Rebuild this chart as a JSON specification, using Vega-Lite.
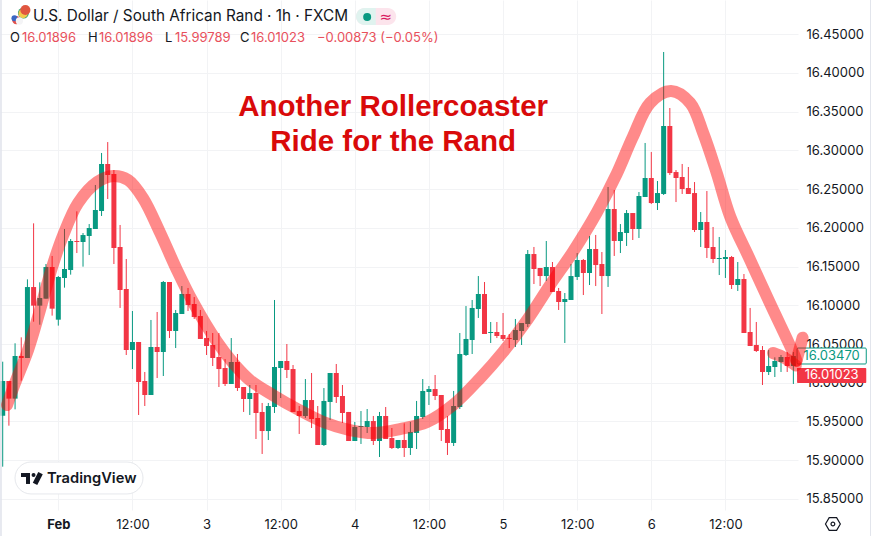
{
"$schema":"https://vega.github.io/schema/vega-lite/v6.json",
"width":798,"height":510,"padding":{"left":0,"top":0,"right":73,"bottom":26},"autosize":{"type":"none"},"background":"#ffffff",
"config":{"view":{"stroke":null},"font":"Inter"},
"datasets":{
"candles":[
{"t":-9,"o":15.9575,"hi":16.0272,"lo":15.8917,"c":16.0023},
{"t":-8,"o":16.0023,"hi":16.0023,"lo":15.9446,"c":15.9795},
{"t":-7,"o":15.9795,"hi":16.0509,"lo":15.9657,"c":16.0345},
{"t":-6,"o":16.0345,"hi":16.0586,"lo":16.0027,"c":16.0319},
{"t":-5,"o":16.0319,"hi":16.1334,"lo":16.0319,"c":16.1235},
{"t":-4,"o":16.1235,"hi":16.2057,"lo":16.0788,"c":16.0995},
{"t":-3,"o":16.0995,"hi":16.1296,"lo":16.0749,"c":16.1094},
{"t":-2,"o":16.1085,"hi":16.1532,"lo":16.1085,"c":16.1494},
{"t":-1,"o":16.1494,"hi":16.1636,"lo":16.0866,"c":16.0956},
{"t":0,"o":16.0814,"hi":16.1377,"lo":16.0737,"c":16.1365},
{"t":1,"o":16.1352,"hi":16.1984,"lo":16.1227,"c":16.1468},
{"t":2,"o":16.1455,"hi":16.1855,"lo":16.1395,"c":16.1829},
{"t":3,"o":16.1829,"hi":16.2212,"lo":16.1674,"c":16.1816},
{"t":4,"o":16.1816,"hi":16.1932,"lo":16.1498,"c":16.1906},
{"t":5,"o":16.1894,"hi":16.2048,"lo":16.1648,"c":16.1997},
{"t":6,"o":16.1984,"hi":16.2552,"lo":16.1984,"c":16.2229},
{"t":7,"o":16.2216,"hi":16.2965,"lo":16.2152,"c":16.2823},
{"t":8,"o":16.2823,"hi":16.3106,"lo":16.2371,"c":16.2681},
{"t":9,"o":16.2694,"hi":16.2745,"lo":16.1532,"c":16.1739},
{"t":10,"o":16.1752,"hi":16.2036,"lo":16.0965,"c":16.1197},
{"t":11,"o":16.121,"hi":16.1597,"lo":16.0358,"c":16.0423},
{"t":12,"o":16.0423,"hi":16.0926,"lo":16.0177,"c":16.0526},
{"t":13,"o":16.0526,"hi":16.0526,"lo":15.9584,"c":16.001},
{"t":14,"o":16.0023,"hi":16.0139,"lo":15.97,"c":15.9842},
{"t":15,"o":15.9842,"hi":16.081,"lo":15.9842,"c":16.0461},
{"t":16,"o":16.0461,"hi":16.0913,"lo":16.0061,"c":16.0397},
{"t":17,"o":16.0397,"hi":16.1313,"lo":16.0087,"c":16.13},
{"t":18,"o":16.13,"hi":16.13,"lo":16.0577,"c":16.0668},
{"t":19,"o":16.0668,"hi":16.0939,"lo":16.0448,"c":16.09},
{"t":20,"o":16.0887,"hi":16.1248,"lo":16.0887,"c":16.1145},
{"t":21,"o":16.1145,"hi":16.1223,"lo":16.0926,"c":16.1003},
{"t":22,"o":16.1016,"hi":16.1106,"lo":16.0823,"c":16.0848},
{"t":23,"o":16.0861,"hi":16.0939,"lo":16.0565,"c":16.0565},
{"t":24,"o":16.0577,"hi":16.0668,"lo":16.0358,"c":16.0474},
{"t":25,"o":16.0487,"hi":16.0642,"lo":16.0216,"c":16.0319},
{"t":26,"o":16.0332,"hi":16.0642,"lo":15.9945,"c":16.0177},
{"t":27,"o":16.019,"hi":16.0306,"lo":15.9958,"c":15.9984},
{"t":28,"o":15.9984,"hi":16.0577,"lo":15.9984,"c":16.0268},
{"t":29,"o":16.0268,"hi":16.0371,"lo":15.9894,"c":15.9932},
{"t":30,"o":15.9945,"hi":15.9945,"lo":15.9623,"c":15.979},
{"t":31,"o":15.979,"hi":15.9971,"lo":15.9584,"c":15.9868},
{"t":32,"o":15.9868,"hi":15.9971,"lo":15.9274,"c":15.961},
{"t":33,"o":15.9623,"hi":15.9739,"lo":15.9081,"c":15.9377},
{"t":34,"o":15.9377,"hi":15.9739,"lo":15.9261,"c":15.97},
{"t":35,"o":15.9687,"hi":16.1068,"lo":15.961,"c":16.0203},
{"t":36,"o":16.019,"hi":16.0281,"lo":15.9803,"c":16.0281},
{"t":37,"o":16.0281,"hi":16.05,"lo":16.0061,"c":16.0165},
{"t":38,"o":16.0177,"hi":16.0229,"lo":15.9623,"c":15.9623},
{"t":39,"o":15.9635,"hi":15.97,"lo":15.9339,"c":15.9571},
{"t":40,"o":15.9571,"hi":16.0048,"lo":15.9545,"c":15.9777},
{"t":41,"o":15.9777,"hi":16.0126,"lo":15.9416,"c":15.9532},
{"t":42,"o":15.9545,"hi":15.97,"lo":15.9197,"c":15.9197},
{"t":43,"o":15.9197,"hi":15.9932,"lo":15.9184,"c":15.9765},
{"t":44,"o":15.9752,"hi":16.0126,"lo":15.9519,"c":16.0126},
{"t":45,"o":16.0126,"hi":16.0242,"lo":15.9739,"c":15.9816},
{"t":46,"o":15.9829,"hi":15.9971,"lo":15.9481,"c":15.961},
{"t":47,"o":15.9623,"hi":15.9623,"lo":15.9248,"c":15.9248},
{"t":48,"o":15.9248,"hi":15.9494,"lo":15.9248,"c":15.9429},
{"t":49,"o":15.9429,"hi":15.9635,"lo":15.921,"c":15.9442},
{"t":50,"o":15.9429,"hi":15.9661,"lo":15.9352,"c":15.9506},
{"t":51,"o":15.9506,"hi":15.9571,"lo":15.9197,"c":15.9248},
{"t":52,"o":15.9248,"hi":15.9623,"lo":15.9042,"c":15.9571},
{"t":53,"o":15.9571,"hi":15.9687,"lo":15.9274,"c":15.9274},
{"t":54,"o":15.9287,"hi":15.9416,"lo":15.9145,"c":15.9158},
{"t":55,"o":15.9158,"hi":15.9261,"lo":15.9145,"c":15.9261},
{"t":56,"o":15.9261,"hi":15.9476,"lo":15.9042,"c":15.9158},
{"t":57,"o":15.9158,"hi":15.9494,"lo":15.9068,"c":15.9365},
{"t":58,"o":15.9352,"hi":15.9765,"lo":15.9145,"c":15.9571},
{"t":59,"o":15.9558,"hi":16.0048,"lo":15.9532,"c":15.9894},
{"t":60,"o":15.9881,"hi":15.9958,"lo":15.9713,"c":15.9919},
{"t":61,"o":15.9919,"hi":16.01,"lo":15.9777,"c":15.9829},
{"t":62,"o":15.9842,"hi":15.9842,"lo":15.9248,"c":15.939},
{"t":63,"o":15.9403,"hi":15.9571,"lo":15.9068,"c":15.9223},
{"t":64,"o":15.9223,"hi":15.9894,"lo":15.9184,"c":15.97},
{"t":65,"o":15.9687,"hi":16.0642,"lo":15.9661,"c":16.0371},
{"t":66,"o":16.0358,"hi":16.099,"lo":16.0345,"c":16.0565},
{"t":67,"o":16.0552,"hi":16.1068,"lo":16.0371,"c":16.0965},
{"t":68,"o":16.0952,"hi":16.1377,"lo":16.0836,"c":16.1145},
{"t":69,"o":16.1145,"hi":16.13,"lo":16.0629,"c":16.0629},
{"t":70,"o":16.0642,"hi":16.0784,"lo":16.0513,"c":16.0655},
{"t":71,"o":16.0655,"hi":16.0784,"lo":16.0577,"c":16.0603},
{"t":72,"o":16.0616,"hi":16.09,"lo":16.0539,"c":16.0565},
{"t":73,"o":16.0577,"hi":16.0629,"lo":16.0448,"c":16.0565},
{"t":74,"o":16.0552,"hi":16.0823,"lo":16.0461,"c":16.0681},
{"t":75,"o":16.0668,"hi":16.0771,"lo":16.0487,"c":16.0771},
{"t":76,"o":16.0758,"hi":16.1713,"lo":16.0719,"c":16.1661},
{"t":77,"o":16.1661,"hi":16.1752,"lo":16.1274,"c":16.1468},
{"t":78,"o":16.1481,"hi":16.1481,"lo":16.1248,"c":16.1377},
{"t":79,"o":16.1377,"hi":16.1829,"lo":16.1313,"c":16.1494},
{"t":80,"o":16.1494,"hi":16.1558,"lo":16.1171,"c":16.1171},
{"t":81,"o":16.1184,"hi":16.1223,"lo":16.0939,"c":16.1042},
{"t":82,"o":16.1042,"hi":16.1158,"lo":16.0513,"c":16.1081},
{"t":83,"o":16.1068,"hi":16.1532,"lo":16.1068,"c":16.1377},
{"t":84,"o":16.1365,"hi":16.1674,"lo":16.1326,"c":16.1584},
{"t":85,"o":16.1584,"hi":16.1597,"lo":16.1132,"c":16.1416},
{"t":86,"o":16.1416,"hi":16.1894,"lo":16.1261,"c":16.1726},
{"t":87,"o":16.1726,"hi":16.1907,"lo":16.1248,"c":16.1519},
{"t":88,"o":16.1532,"hi":16.1687,"lo":16.0887,"c":16.1377},
{"t":89,"o":16.1377,"hi":16.2526,"lo":16.1236,"c":16.2242},
{"t":90,"o":16.2242,"hi":16.2487,"lo":16.1636,"c":16.1829},
{"t":91,"o":16.1829,"hi":16.2048,"lo":16.1674,"c":16.1945},
{"t":92,"o":16.1932,"hi":16.2229,"lo":16.1765,"c":16.219},
{"t":93,"o":16.219,"hi":16.219,"lo":16.1842,"c":16.1984},
{"t":94,"o":16.1984,"hi":16.2461,"lo":16.1868,"c":16.241},
{"t":95,"o":16.2397,"hi":16.3094,"lo":16.2397,"c":16.2642},
{"t":96,"o":16.2642,"hi":16.2977,"lo":16.2306,"c":16.2319},
{"t":97,"o":16.2319,"hi":16.2603,"lo":16.2229,"c":16.2448},
{"t":98,"o":16.2436,"hi":16.4268,"lo":16.2423,"c":16.3313},
{"t":99,"o":16.3313,"hi":16.3545,"lo":16.2681,"c":16.2706},
{"t":100,"o":16.2719,"hi":16.2745,"lo":16.2332,"c":16.2642},
{"t":101,"o":16.2655,"hi":16.2823,"lo":16.2436,"c":16.25},
{"t":102,"o":16.2513,"hi":16.2784,"lo":16.2436,"c":16.2436},
{"t":103,"o":16.2448,"hi":16.259,"lo":16.1945,"c":16.1971},
{"t":104,"o":16.1971,"hi":16.2203,"lo":16.1752,"c":16.2074},
{"t":105,"o":16.2074,"hi":16.2474,"lo":16.161,"c":16.1739},
{"t":106,"o":16.1752,"hi":16.201,"lo":16.1545,"c":16.1597},
{"t":107,"o":16.1597,"hi":16.1881,"lo":16.139,"c":16.161},
{"t":108,"o":16.1597,"hi":16.1713,"lo":16.1352,"c":16.1623},
{"t":109,"o":16.1623,"hi":16.1636,"lo":16.121,"c":16.1261},
{"t":110,"o":16.1261,"hi":16.1558,"lo":16.1184,"c":16.1339},
{"t":111,"o":16.1339,"hi":16.1403,"lo":16.0642,"c":16.0642},
{"t":112,"o":16.0655,"hi":16.0965,"lo":16.0474,"c":16.0474},
{"t":113,"o":16.0487,"hi":16.0784,"lo":16.0397,"c":16.041},
{"t":114,"o":16.0423,"hi":16.0474,"lo":15.9971,"c":16.0139},
{"t":115,"o":16.0139,"hi":16.0423,"lo":16.01,"c":16.0216},
{"t":116,"o":16.0203,"hi":16.0328,"lo":16.0074,"c":16.0281},
{"t":117,"o":16.0268,"hi":16.0358,"lo":16.0139,"c":16.0332},
{"t":118,"o":16.0332,"hi":16.0397,"lo":16.0139,"c":16.0216},
{"t":119,"o":16.0216,"hi":16.0397,"lo":15.9984,"c":16.0345},
{"t":120,"o":16.01896,"hi":16.01896,"lo":15.99789,"c":16.01023}
],
"curve":[
{"seg":"main","t":-8.3,"p":15.9713},{"seg":"main","t":-7,"p":15.9997},{"seg":"main","t":-4.9,"p":16.0423},{"seg":"main","t":-3,"p":16.0928},{"seg":"main","t":-1,"p":16.1494},{"seg":"main","t":0.8,"p":16.1906},{"seg":"main","t":3.2,"p":16.2319},{"seg":"main","t":6.3,"p":16.259},{"seg":"main","t":8.9,"p":16.2668},{"seg":"main","t":11.3,"p":16.2616},{"seg":"main","t":13.7,"p":16.2384},{"seg":"main","t":16.5,"p":16.1932},{"seg":"main","t":19.2,"p":16.1455},{"seg":"main","t":21.8,"p":16.1042},{"seg":"main","t":25.7,"p":16.0526},{"seg":"main","t":28.3,"p":16.0255},{"seg":"main","t":31,"p":16.0035},{"seg":"main","t":34.8,"p":15.9838},{"seg":"main","t":38.6,"p":15.9664},{"seg":"main","t":42.9,"p":15.9494},{"seg":"main","t":47.2,"p":15.939},{"seg":"main","t":51,"p":15.9352},{"seg":"main","t":55.3,"p":15.9403},{"seg":"main","t":59.7,"p":15.9494},{"seg":"main","t":63.9,"p":15.9713},{"seg":"main","t":68.3,"p":16.0061},{"seg":"main","t":72,"p":16.0397},{"seg":"main","t":75.9,"p":16.081},{"seg":"main","t":79.6,"p":16.1261},{"seg":"main","t":83.3,"p":16.1688},{"seg":"main","t":87.2,"p":16.22},{"seg":"main","t":90.4,"p":16.2695},{"seg":"main","t":93,"p":16.3171},{"seg":"main","t":95.8,"p":16.361},{"seg":"main","t":99.2,"p":16.3765},{"seg":"main","t":102.3,"p":16.361},{"seg":"main","t":104.4,"p":16.3223},{"seg":"main","t":106.6,"p":16.2706},{"seg":"main","t":108.8,"p":16.2139},{"seg":"main","t":112,"p":16.1584},{"seg":"main","t":115.2,"p":16.1029},{"seg":"main","t":119,"p":16.0384},{"seg":"main","t":119.5,"p":16.0283},
{"seg":"hook","t":115.7,"p":16.0384},{"seg":"hook","t":117.6,"p":16.032},{"seg":"hook","t":119.4,"p":16.0223},
{"seg":"tip","t":119.5,"p":16.0283},{"seg":"tip","t":120.5,"p":16.0582}
],
"logoBars":[{"t":-6.04,"t2":-4.58,"p":15.8835,"p2":15.8784},{"t":-5.23,"t2":-4.58,"p":15.8835,"p2":15.8694}],
"flag":[
{"part":"sa","t":-5.65,"p":16.4771},{"part":"sared","t":-5.33,"p":16.4810},{"part":"saband","t":-5.7,"p":16.4765},
{"part":"us","t":-6.8,"p":16.4680},{"part":"uswhite","t":-6.3,"p":16.4668},{"part":"usblue","t":-7.1,"p":16.4705}
],
"header":[{"label":"U.S. Dollar / South African Rand · 1h · FXCM","t":-4.1,"p":16.4732}],
"ohlcKeys":[{"label":"O","t":-7.82,"p":16.4448},{"label":"H","t":4.81,"p":16.4448},{"label":"L","t":17.27,"p":16.4448},{"label":"C","t":29.42,"p":16.4448}],
"ohlcVals":[{"label":"16.01896","t":-5.88,"p":16.4448},{"label":"16.01896","t":6.59,"p":16.4448},{"label":"15.99789","t":18.89,"p":16.4448},{"label":"16.01023","t":31.2,"p":16.4448},{"label":"−0.00873 (−0.05%)","t":41.88,"p":16.4448}],
"headline":[{"label":"Another Rollercoaster","t":54.2,"p":16.3558},{"label":"Ride for the Rand","t":54.2,"p":16.3106}]
},
"layer":[
{"data":{"name":"candles"},"mark":{"type":"rule","strokeWidth":1,"clip":true},
 "encoding":{
  "x":{"field":"t","type":"quantitative","scale":{"domain":[-9.44,119.75],"nice":false,"zero":false,"padding":0},
   "axis":{"title":null,"orient":"bottom","values":[0,12,24,36,48,60,72,84,96,108],"grid":true,"gridColor":"#f2f3f5","gridWidth":1,"domain":false,"ticks":false,"labelPadding":14,"labelFontSize":13,"labelFont":"Inter","labelColor":"#131722","labelOverlap":false,"labelBaseline":"middle","labelExpr":"datum.value==0?'Feb':datum.value%24==0?''+(2+datum.value/24):'12:00'","labelFontWeight":{"condition":{"test":"datum.value==0","value":"bold"},"value":"normal"}}},
  "y":{"field":"lo","type":"quantitative","scale":{"domain":[15.8358,16.4939],"nice":false,"zero":false},
   "axis":{"title":null,"orient":"right","values":[15.85,15.9,15.95,16.0,16.05,16.1,16.15,16.2,16.25,16.3,16.35,16.4,16.45],"format":".5f","grid":true,"gridColor":"#f2f3f5","gridWidth":1,"domain":false,"ticks":false,"labelPadding":8,"labelFontSize":13,"labelFont":"Inter","labelColor":"#131722"}},
  "y2":{"field":"hi"},
  "color":{"condition":{"test":"datum.o<datum.c","value":"#089981"},"value":"#F23645"}}},
{"data":{"name":"candles"},"mark":{"type":"bar","size":5,"clip":true},
 "encoding":{"x":{"field":"t","type":"quantitative"},"y":{"field":"o","type":"quantitative"},"y2":{"field":"c"},
  "color":{"condition":{"test":"datum.o<datum.c","value":"#089981"},"value":"#F23645"}}},
{"mark":{"type":"rule","color":"#F23645","strokeDash":[1,3],"strokeWidth":1},"encoding":{"y":{"datum":16.01023,"type":"quantitative"}}},
{"data":{"values":[{"t":-9.28}]},"mark":{"type":"rule","color":"#e0e3eb","strokeWidth":1.5},"encoding":{"x":{"field":"t","type":"quantitative"},"y":{"datum":16.4939,"type":"quantitative"},"y2":{"datum":15.8023}}},
{"data":{"values":[{"t":131.5}]},"mark":{"type":"rule","color":"#e0e3eb","strokeWidth":1},"encoding":{"x":{"field":"t","type":"quantitative"},"y":{"datum":16.4939,"type":"quantitative"},"y2":{"datum":15.8023}}},
{"data":{"values":[{"t":-7.01,"t2":13.71,"p":15.8977,"p2":15.8565}]},"mark":{"type":"rect","fill":"#ffffff","stroke":"#e6e8ec","strokeWidth":1,"cornerRadius":16},"encoding":{"x":{"field":"t","type":"quantitative"},"x2":{"field":"t2"},"y":{"field":"p","type":"quantitative"},"y2":{"field":"p2"}}},
{"data":{"name":"logoBars"},"mark":{"type":"rect","color":"#131722"},"encoding":{"x":{"field":"t","type":"quantitative"},"x2":{"field":"t2"},"y":{"field":"p","type":"quantitative"},"y2":{"field":"p2"}}},
{"data":{"values":[{"t":-4.01,"p":15.881}]},"mark":{"type":"point","filled":true,"color":"#131722","size":16,"opacity":1},"encoding":{"x":{"field":"t","type":"quantitative"},"y":{"field":"p","type":"quantitative"}}},
{"data":{"values":[{"t":-3.77,"p":15.8694},{"t":-2.88,"p":15.8835}]},"mark":{"type":"line","color":"#131722","strokeWidth":5},"encoding":{"x":{"field":"t","type":"quantitative"},"y":{"field":"p","type":"quantitative"}}},
{"data":{"values":[{"label":"TradingView","t":-1.83,"p":15.8758}]},"mark":{"type":"text","align":"left","baseline":"middle","font":"Inter","fontWeight":600,"fontSize":14.7,"color":"#131722"},"encoding":{"x":{"field":"t","type":"quantitative"},"y":{"field":"p","type":"quantitative"},"text":{"field":"label"}}},
{"data":{"values":[{"t":119.6,"t2":130.8,"p":16.0448,"p2":16.0242}]},"mark":{"type":"rect","fill":"#ffffff","stroke":"#089981","strokeWidth":1,"cornerRadius":1},"encoding":{"x":{"field":"t","type":"quantitative"},"x2":{"field":"t2"},"y":{"field":"p","type":"quantitative"},"y2":{"field":"p2"}}},
{"data":{"values":[{"label":"16.03470","t":125.2,"p":16.0345}]},"mark":{"type":"text","align":"center","baseline":"middle","font":"Inter","fontSize":13,"color":"#089981"},"encoding":{"x":{"field":"t","type":"quantitative"},"y":{"field":"p","type":"quantitative"},"text":{"field":"label"}}},
{"data":{"values":[{"t":119.6,"t2":130.8,"p":16.019,"p2":15.9997}]},"mark":{"type":"rect","fill":"#F23645","cornerRadius":1},"encoding":{"x":{"field":"t","type":"quantitative"},"x2":{"field":"t2"},"y":{"field":"p","type":"quantitative"},"y2":{"field":"p2"}}},
{"data":{"values":[{"label":"16.01023","t":125.2,"p":16.0098}]},"mark":{"type":"text","align":"center","baseline":"middle","font":"Inter","fontSize":13,"color":"#ffffff"},"encoding":{"x":{"field":"t","type":"quantitative"},"y":{"field":"p","type":"quantitative"},"text":{"field":"label"}}},
{"data":{"name":"curve"},"mark":{"type":"line","color":"#ff0000","opacity":0.46,"strokeWidth":12,"strokeCap":"round","strokeJoin":"round","interpolate":"catmull-rom"},"encoding":{"x":{"field":"t","type":"quantitative"},"y":{"field":"p","type":"quantitative"},"detail":{"field":"seg"}}},
{"data":{"name":"headline"},"mark":{"type":"text","align":"center","baseline":"middle","font":"Liberation Sans","fontWeight":"bold","fontSize":29.5,"color":"#d90a0a"},"encoding":{"x":{"field":"t","type":"quantitative"},"y":{"field":"p","type":"quantitative"},"text":{"field":"label"}}},
{"data":{"name":"header"},"mark":{"type":"text","align":"left","baseline":"middle","font":"Inter","fontSize":15.3,"color":"#131722"},"encoding":{"x":{"field":"t","type":"quantitative"},"y":{"field":"p","type":"quantitative"},"text":{"field":"label"}}},
{"data":{"name":"ohlcKeys"},"mark":{"type":"text","align":"left","baseline":"middle","font":"Inter","fontSize":13,"color":"#131722"},"encoding":{"x":{"field":"t","type":"quantitative"},"y":{"field":"p","type":"quantitative"},"text":{"field":"label"}}},
{"data":{"name":"ohlcVals"},"mark":{"type":"text","align":"left","baseline":"middle","font":"Inter","fontSize":13,"color":"#e8505c"},"encoding":{"x":{"field":"t","type":"quantitative"},"y":{"field":"p","type":"quantitative"},"text":{"field":"label"}}},
{"data":{"values":[{"t":48.2,"t2":54.7,"p":16.4835,"p2":16.4616}]},"mark":{"type":"rect","fill":"#fce4ec","cornerRadius":8.5},"encoding":{"x":{"field":"t","type":"quantitative"},"x2":{"field":"t2"},"y":{"field":"p","type":"quantitative"},"y2":{"field":"p2"}}},
{"data":{"values":[{"t":48.2,"t2":51.4,"p":16.4835,"p2":16.4616}]},"mark":{"type":"rect","fill":"#e0f3ef","cornerRadiusTopLeft":8.5,"cornerRadiusBottomLeft":8.5},"encoding":{"x":{"field":"t","type":"quantitative"},"x2":{"field":"t2"},"y":{"field":"p","type":"quantitative"},"y2":{"field":"p2"}}},
{"data":{"values":[{"t":50,"p":16.4719}]},"mark":{"type":"point","filled":true,"opacity":1,"size":64,"color":"#089981"},"encoding":{"x":{"field":"t","type":"quantitative"},"y":{"field":"p","type":"quantitative"}}},
{"data":{"values":[{"label":"≈","t":53,"p":16.4719}]},"mark":{"type":"text","align":"center","baseline":"middle","font":"DejaVu Sans","fontSize":15,"color":"#d81b60"},"encoding":{"x":{"field":"t","type":"quantitative"},"y":{"field":"p","type":"quantitative"},"text":{"field":"label"}}},
{"data":{"name":"flag"},"mark":{"type":"point","filled":true,"opacity":1},"encoding":{"x":{"field":"t","type":"quantitative"},"y":{"field":"p","type":"quantitative"},"color":{"field":"part","type":"nominal","legend":null,"scale":{"domain":["sa","sared","saband","us","uswhite","usblue"],"range":["#2f9e6b","#e0563f","#f2c94c","#e2514c","#f4f4f6","#3a66c4"]}},"size":{"field":"part","type":"nominal","legend":null,"scale":{"domain":["sa","sared","saband","us","uswhite","usblue"],"range":[120,36,14,130,40,40]}},"order":{"field":"part","sort":"ascending"}}},
{"data":{"values":[{"t":125.4,"p":15.8177}]},"mark":{"type":"point","shape":"M-1,0L-0.5,-0.85L0.5,-0.85L1,0L0.5,0.85L-0.5,0.85Z","filled":false,"opacity":1,"size":220,"color":"#131722","strokeWidth":1.2},"encoding":{"x":{"field":"t","type":"quantitative"},"y":{"field":"p","type":"quantitative"}}},
{"data":{"values":[{"t":125.4,"p":15.8177}]},"mark":{"type":"point","filled":false,"opacity":1,"size":14,"color":"#131722","strokeWidth":1.2},"encoding":{"x":{"field":"t","type":"quantitative"},"y":{"field":"p","type":"quantitative"}}}
]
}
